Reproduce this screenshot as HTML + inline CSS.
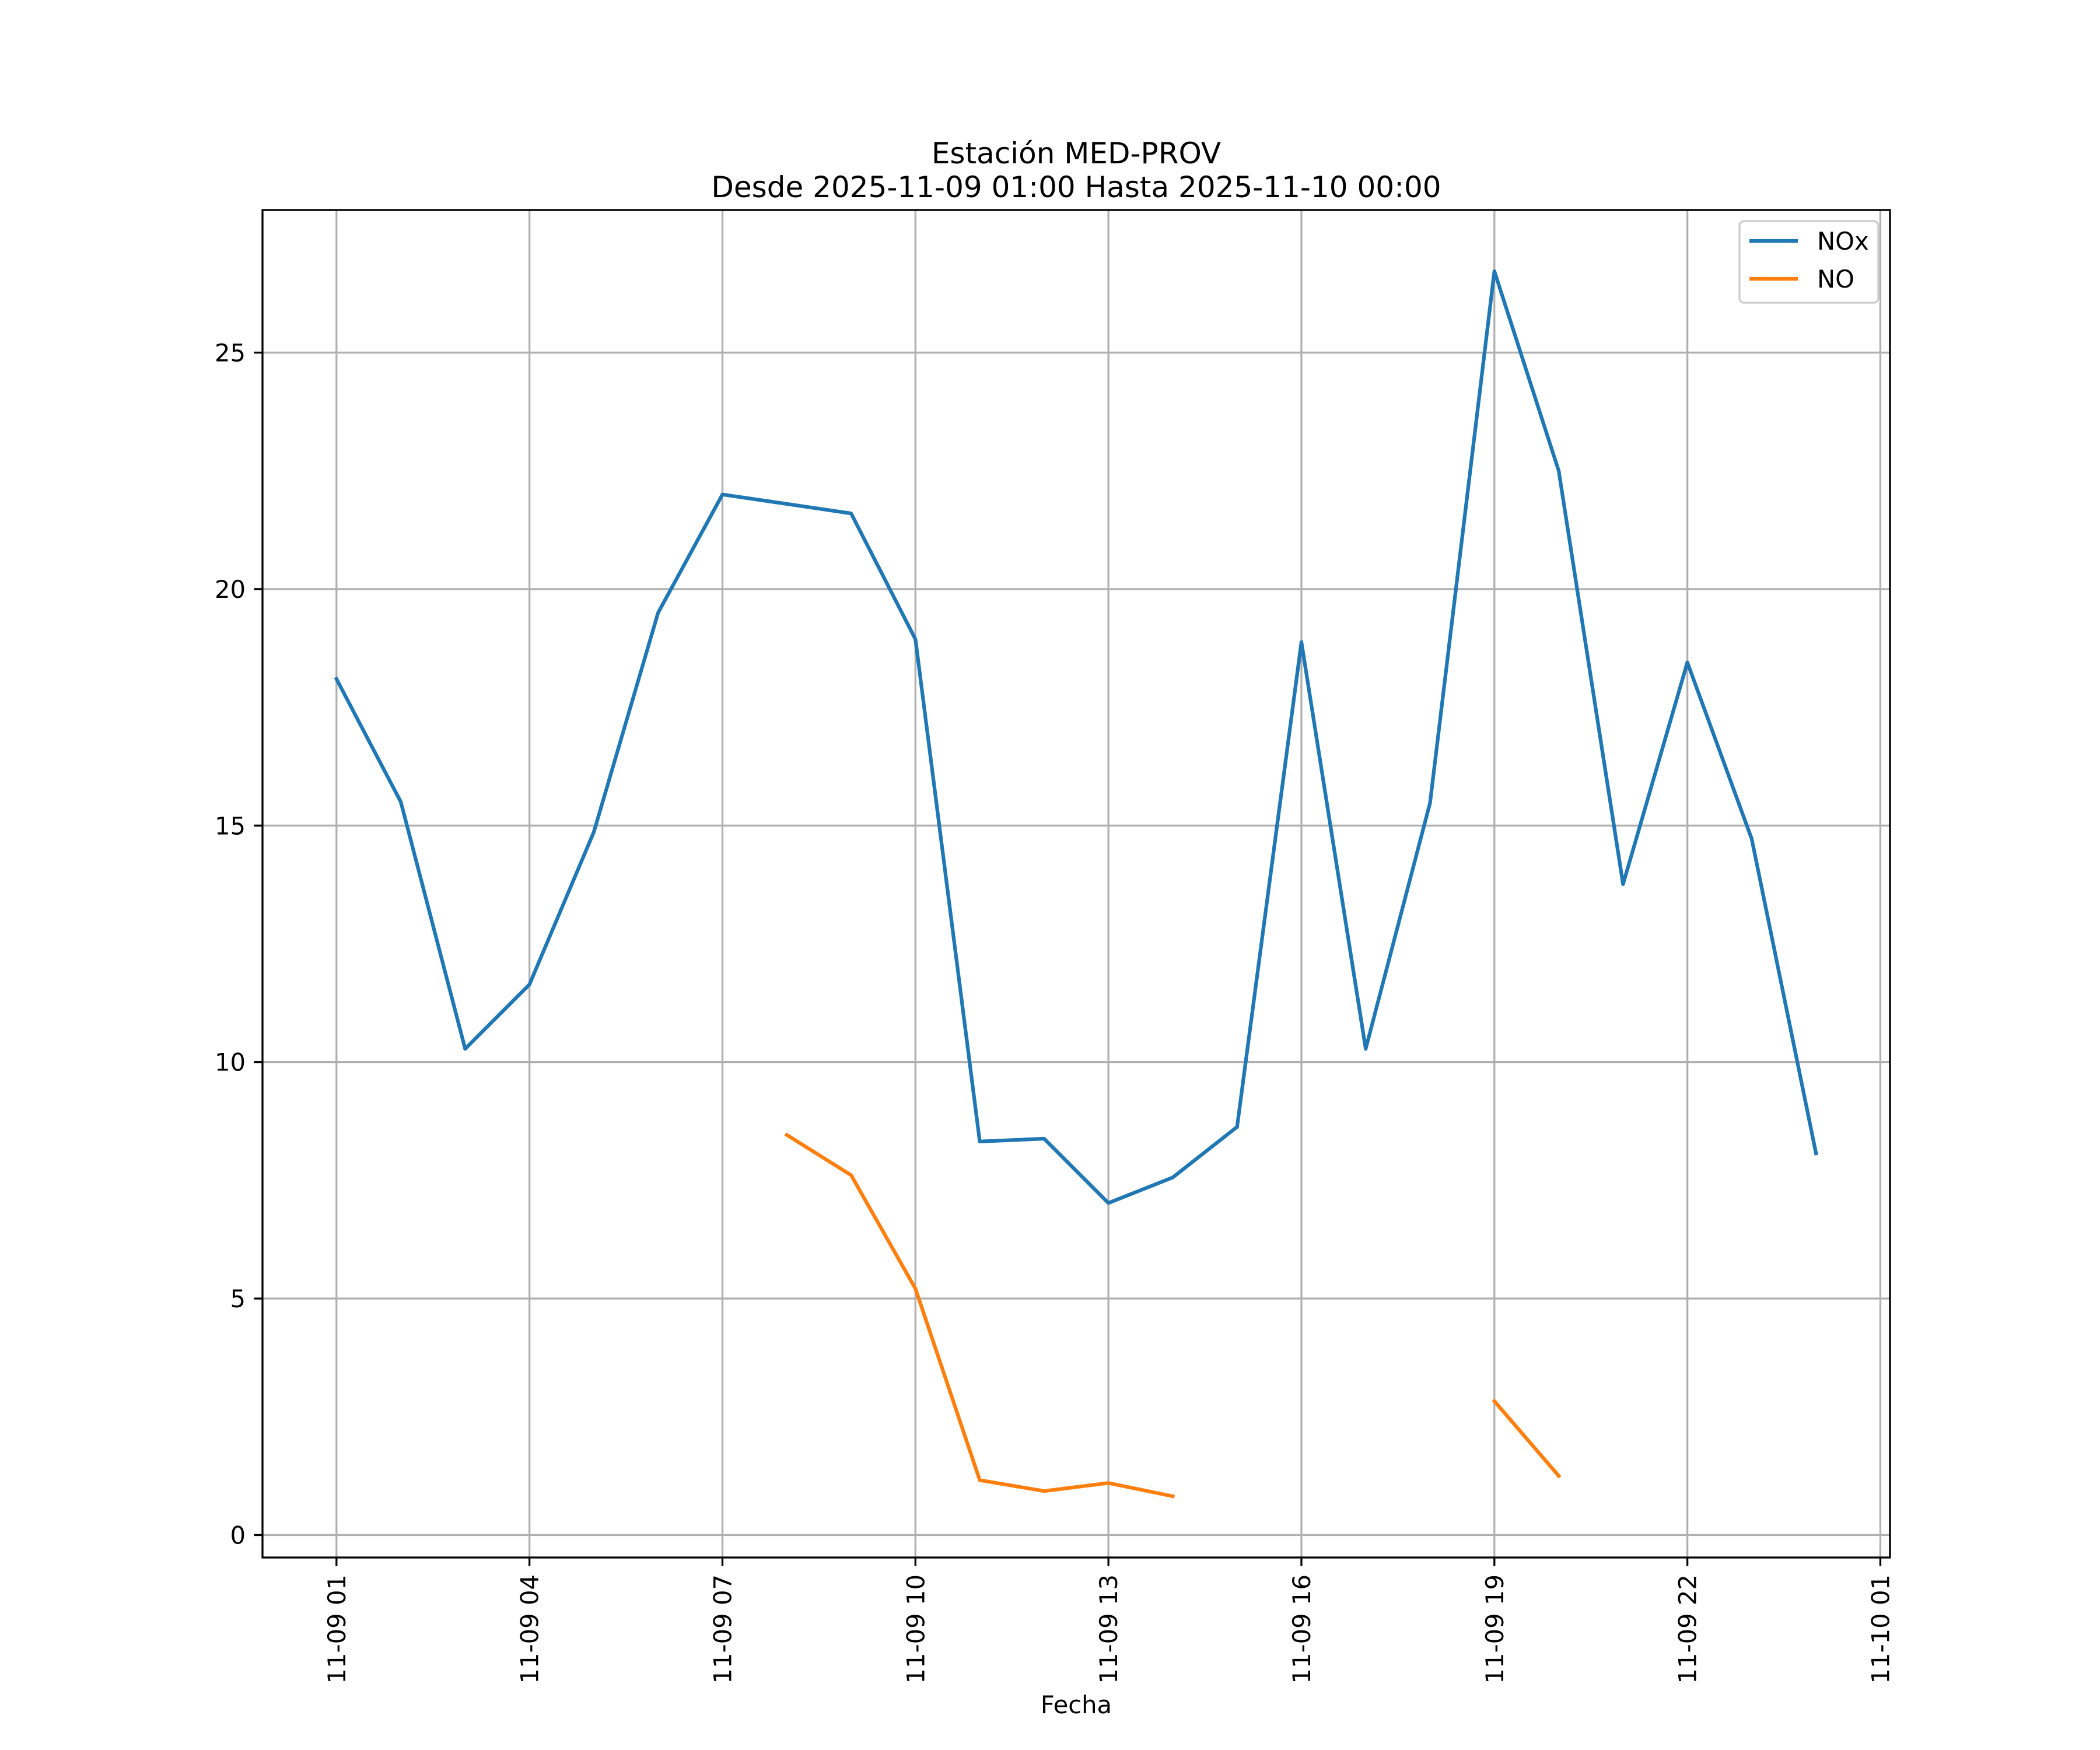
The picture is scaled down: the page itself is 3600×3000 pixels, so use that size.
<!DOCTYPE html>
<html><head><meta charset="utf-8"><style>
html,body{margin:0;padding:0;background:#fff}
svg{display:block}
text{font-family:"DejaVu Sans","Liberation Sans",sans-serif;fill:#000}
</style></head><body>
<svg id="chart" width="3600" height="3000" viewBox="0 0 3600 3000" xmlns="http://www.w3.org/2000/svg">
<rect width="3600" height="3000" fill="#fff"/>
<text x="1845" y="280" font-size="50" text-anchor="middle">Estación MED-PROV</text>
<text x="1845" y="338" font-size="50" text-anchor="middle">Desde 2025-11-09 01:00 Hasta 2025-11-10 00:00</text>
<g id="grid"></g>
<g id="series"></g>
<g id="axes"></g>
<text x="1845" y="2937" font-size="41.7" text-anchor="middle">Fecha</text>
<g>
<rect x="2982" y="379" width="238" height="140" rx="8" fill="#fff" fill-opacity="0.8" stroke="#cccccc" stroke-width="3.3"/>
<line x1="2999" y1="413" x2="3082" y2="413" stroke="#1f77b4" stroke-width="6.25"/>
<text x="3115" y="428" font-size="41.7">NOx</text>
<line x1="2999" y1="478" x2="3082" y2="478" stroke="#ff7f0e" stroke-width="6.25"/>
<text x="3115" y="493" font-size="41.7">NO</text>
</g>
</svg>
<script>
const hours = [1,2,3,4,5,6,7,8,9,10,11,12,13,14,15,16,17,18,19,20,21,22,23,24];
const noxValues = [18.1,15.5,10.28,11.64,14.86,19.5,22.0,21.8,21.6,18.94,8.32,8.38,7.02,7.56,8.63,18.88,10.28,15.48,26.72,22.5,13.76,18.45,14.72,8.07];
const noValues = [null,null,null,null,null,null,null,8.46,7.61,5.21,1.16,0.93,1.1,0.82,null,null,null,null,2.83,1.25,null,null,null,null];
const xTickHours = [1,4,7,10,13,16,19,22,25];
const xTickLabels = ["11-09 01","11-09 04","11-09 07","11-09 10","11-09 13","11-09 16","11-09 19","11-09 22","11-10 01"];
const yTicks = [0,5,10,15,20,25];

const L=450,R=3240,T=360,B=2670;
const NS='http://www.w3.org/2000/svg';
const all=noxValues.concat(noValues).filter(v=>v!==null);
const dmin=Math.min(...all),dmax=Math.max(...all);
const ymin=dmin-0.05*(dmax-dmin),ymax=dmax+0.05*(dmax-dmin);
const hmin=hours[0],hmax=hours[hours.length-1];
const xmin=hmin-0.05*(hmax-hmin),xmax=hmax+0.05*(hmax-hmin);
const X=h=>L+(h-xmin)/(xmax-xmin)*(R-L);
const Y=v=>B-(v-ymin)/(ymax-ymin)*(B-T);
function mk(tag,attrs,parent){const e=document.createElementNS(NS,tag);for(const k in attrs)e.setAttribute(k,attrs[k]);parent.appendChild(e);return e;}
const grid=document.getElementById('grid'),axes=document.getElementById('axes'),series=document.getElementById('series');
xTickHours.forEach((h,i)=>{
  const x=X(h);
  const g=mk('line',{x1:x,y1:T,x2:x,y2:B,stroke:'#b0b0b0','stroke-width':3.3},grid);
  
  
  const t=mk('line',{x1:x,y1:B,x2:x,y2:B+14.6,stroke:'#000','stroke-width':3.3},axes);
  
  
  const tx=mk('text',{x:0,y:0,'font-size':41.7,'text-anchor':'end',transform:`translate(${x+15},${B+29}) rotate(-90)`},axes);
  tx.textContent=xTickLabels[i];
  
  
});
yTicks.forEach(v=>{
  const y=Y(v);
  const g=mk('line',{x1:L,y1:y,x2:R,y2:y,stroke:'#b0b0b0','stroke-width':3.3},grid);
  
  
  const t=mk('line',{x1:L-14.6,y1:y,x2:L,y2:y,stroke:'#000','stroke-width':3.3},axes);
  
  
  const tx=mk('text',{x:L-29,y:y+15,'font-size':41.7,'text-anchor':'end'},axes);
  tx.textContent=String(v);
  
  
});
const frame=mk('rect',{x:L,y:T,width:R-L,height:B-T,fill:'none',stroke:'#000','stroke-width':3.3},axes);


function draw(vals,color,name){
  let d='',pen=false;
  vals.forEach((v,i)=>{
    if(v===null){pen=false;return;}
    d+=(pen?'L':'M')+X(hours[i]).toFixed(1)+' '+Y(v).toFixed(1)+' ';pen=true;
  });
  const p=mk('path',{d:d,fill:'none',stroke:color,'stroke-width':6.25,'stroke-linejoin':'round','stroke-linecap':'square'},series);
  
  
}
draw(noxValues,'#1f77b4','nox-line');
draw(noValues,'#ff7f0e','no-line');
</script>
</body></html>
